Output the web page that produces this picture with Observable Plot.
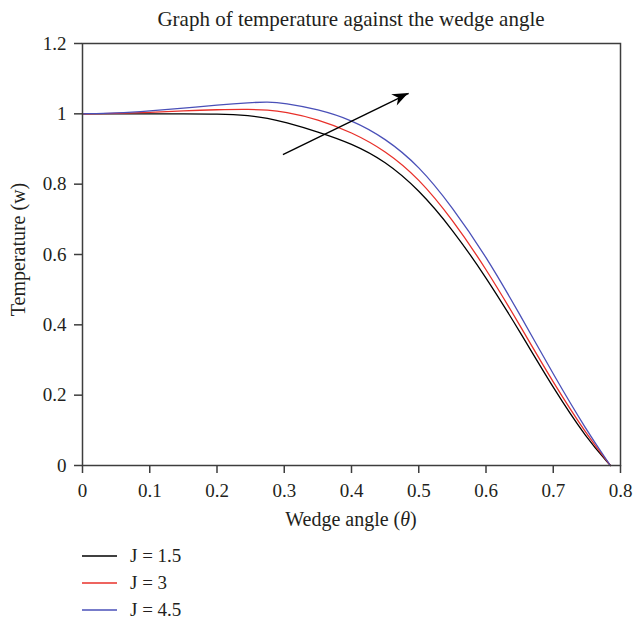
<!DOCTYPE html>
<html><head><meta charset="utf-8">
<script src="https://cdn.jsdelivr.net/npm/d3@7"></script>
<script src="https://cdn.jsdelivr.net/npm/@observablehq/plot@0.6"></script>
<style>
body{margin:0;background:#fff;}
#wrap{position:relative;width:633px;height:623px;font-family:"Liberation Serif",serif;color:#231f20;overflow:hidden;}
#title{position:absolute;left:0;width:702px;top:7px;text-align:center;font-size:21px;line-height:24px;}
#xlabel{position:absolute;left:0;width:702px;top:507px;text-align:center;font-size:20px;line-height:24px;}
#chart{position:absolute;left:0;top:0;}
.leg{position:absolute;left:82px;height:20px;font-size:19px;line-height:20px;display:flex;align-items:center;}
.leg svg{margin-right:13px;}
</style></head>
<body><div id="wrap">
<div id="chart"></div>
<div id="title">Graph of temperature against the wedge angle</div>
<div id="xlabel">Wedge angle (<i>θ</i>)</div>
<div id="legend"></div>
</div>
<script>
// Wedge angle values (theta) shared by all series
const theta = [0, 0.05, 0.1, 0.15, 0.2, 0.25, 0.275, 0.3, 0.35, 0.4, 0.45, 0.5, 0.55, 0.6, 0.65, 0.7, 0.75, 0.785];
// Temperature (w) for each J
const wJ15 = [1, 1, 1, 1, 1, 0.995, 0.988, 0.977, 0.949, 0.916, 0.866, 0.785, 0.672, 0.536, 0.382, 0.22, 0.076, 0];
const wJ3  = [1, 1.001, 1.004, 1.009, 1.012, 1.013, 1.011, 1.006, 0.985, 0.948, 0.896, 0.817, 0.70, 0.56, 0.40, 0.235, 0.087, 0];
const wJ45 = [1, 1.002, 1.008, 1.016, 1.025, 1.032, 1.034, 1.031, 1.013, 0.983, 0.931, 0.853, 0.735, 0.595, 0.431, 0.259, 0.098, 0];
const seriesLabels = ["J = 1.5", "J = 3", "J = 4.5"];
const seriesColors = ["#000000", "#e8302a", "#4a50b8"];
const xTicks = [0, 0.1, 0.2, 0.3, 0.4, 0.5, 0.6, 0.7, 0.8];
const yTicks = [0, 0.2, 0.4, 0.6, 0.8, 1, 1.2];
const yLabel = "Temperature (w)";
// annotation arrow (data coords): from [theta, w] to [theta, w]
const arrowFrom = [0.298, 0.884];
const arrowTo = [0.485, 1.058];

const allW = [wJ15, wJ3, wJ45];
const rows = [];
allW.forEach((ws, i) => ws.forEach((w, j) => rows.push({theta: theta[j], w, series: seriesLabels[i]})));

const fmt = d3.format("~g");
const axisColor = "#3d3d3d";
const chart = Plot.plot({
  width: 633, height: 540,
  marginTop: 43, marginBottom: 75, marginLeft: 82, marginRight: 13,
  style: {fontFamily: "Liberation Serif, serif", fontSize: "19px", color: "#231f20", background: "transparent", overflow: "visible"},
  x: {domain: [0, 0.8]},
  y: {domain: [0, 1.2]},
  color: {domain: seriesLabels, range: seriesColors},
  marks: [
    Plot.axisX({ticks: xTicks, tickFormat: fmt, tickSize: 8, tickPadding: 10, label: null, stroke: axisColor, strokeWidth: 1.5}),
    Plot.axisY({ticks: yTicks, tickFormat: fmt, tickSize: 8, tickPadding: 8, label: null, stroke: axisColor, strokeWidth: 1.5}),
    Plot.line(rows, {x: "theta", y: "w", z: "series", stroke: "series", strokeWidth: 1.3, curve: "basis"}),
    Plot.link([0], {x1: () => arrowFrom[0], y1: () => arrowFrom[1], x2: () => arrowTo[0], y2: () => arrowTo[1], stroke: "#000", strokeWidth: 1.4}),
    Plot.frame({stroke: axisColor, strokeWidth: 1.5}),
    Plot.text([yLabel], {text: d => d, frameAnchor: "left", textAnchor: "middle", dx: -64, dy: -5, rotate: -90, fontSize: 20, fill: "#231f20"})
  ]
});
document.getElementById("chart").appendChild(chart);

// filled arrow head placed via the chart scales
const sx = chart.scale("x"), sy = chart.scale("y");
const x1 = sx.apply(arrowFrom[0]), y1 = sy.apply(arrowFrom[1]);
const x2 = sx.apply(arrowTo[0]), y2 = sy.apply(arrowTo[1]);
const ang = Math.atan2(y2 - y1, x2 - x1);
const L = 17, W = 0.38, N = 11;
const pt = (d, a) => [x2 - d * Math.cos(ang + a), y2 - d * Math.sin(ang + a)];
const head = [[x2, y2], pt(L, W), pt(N, 0), pt(L, -W)];
d3.select(chart).append("path")
  .attr("d", "M" + head.map(p => p.join(",")).join("L") + "Z")
  .attr("fill", "#000");

// legend
const leg = document.getElementById("legend");
const legTops = [546, 573, 600];
seriesLabels.forEach((lab, i) => {
  const div = document.createElement("div");
  div.className = "leg";
  div.style.top = legTops[i] + "px";
  div.innerHTML = `<svg width="35" height="4"><line x1="0" x2="35" y1="2" y2="2" stroke="${seriesColors[i]}" stroke-width="1.4"/></svg><span>${lab}</span>`;
  leg.appendChild(div);
});
</script>
</body></html>
